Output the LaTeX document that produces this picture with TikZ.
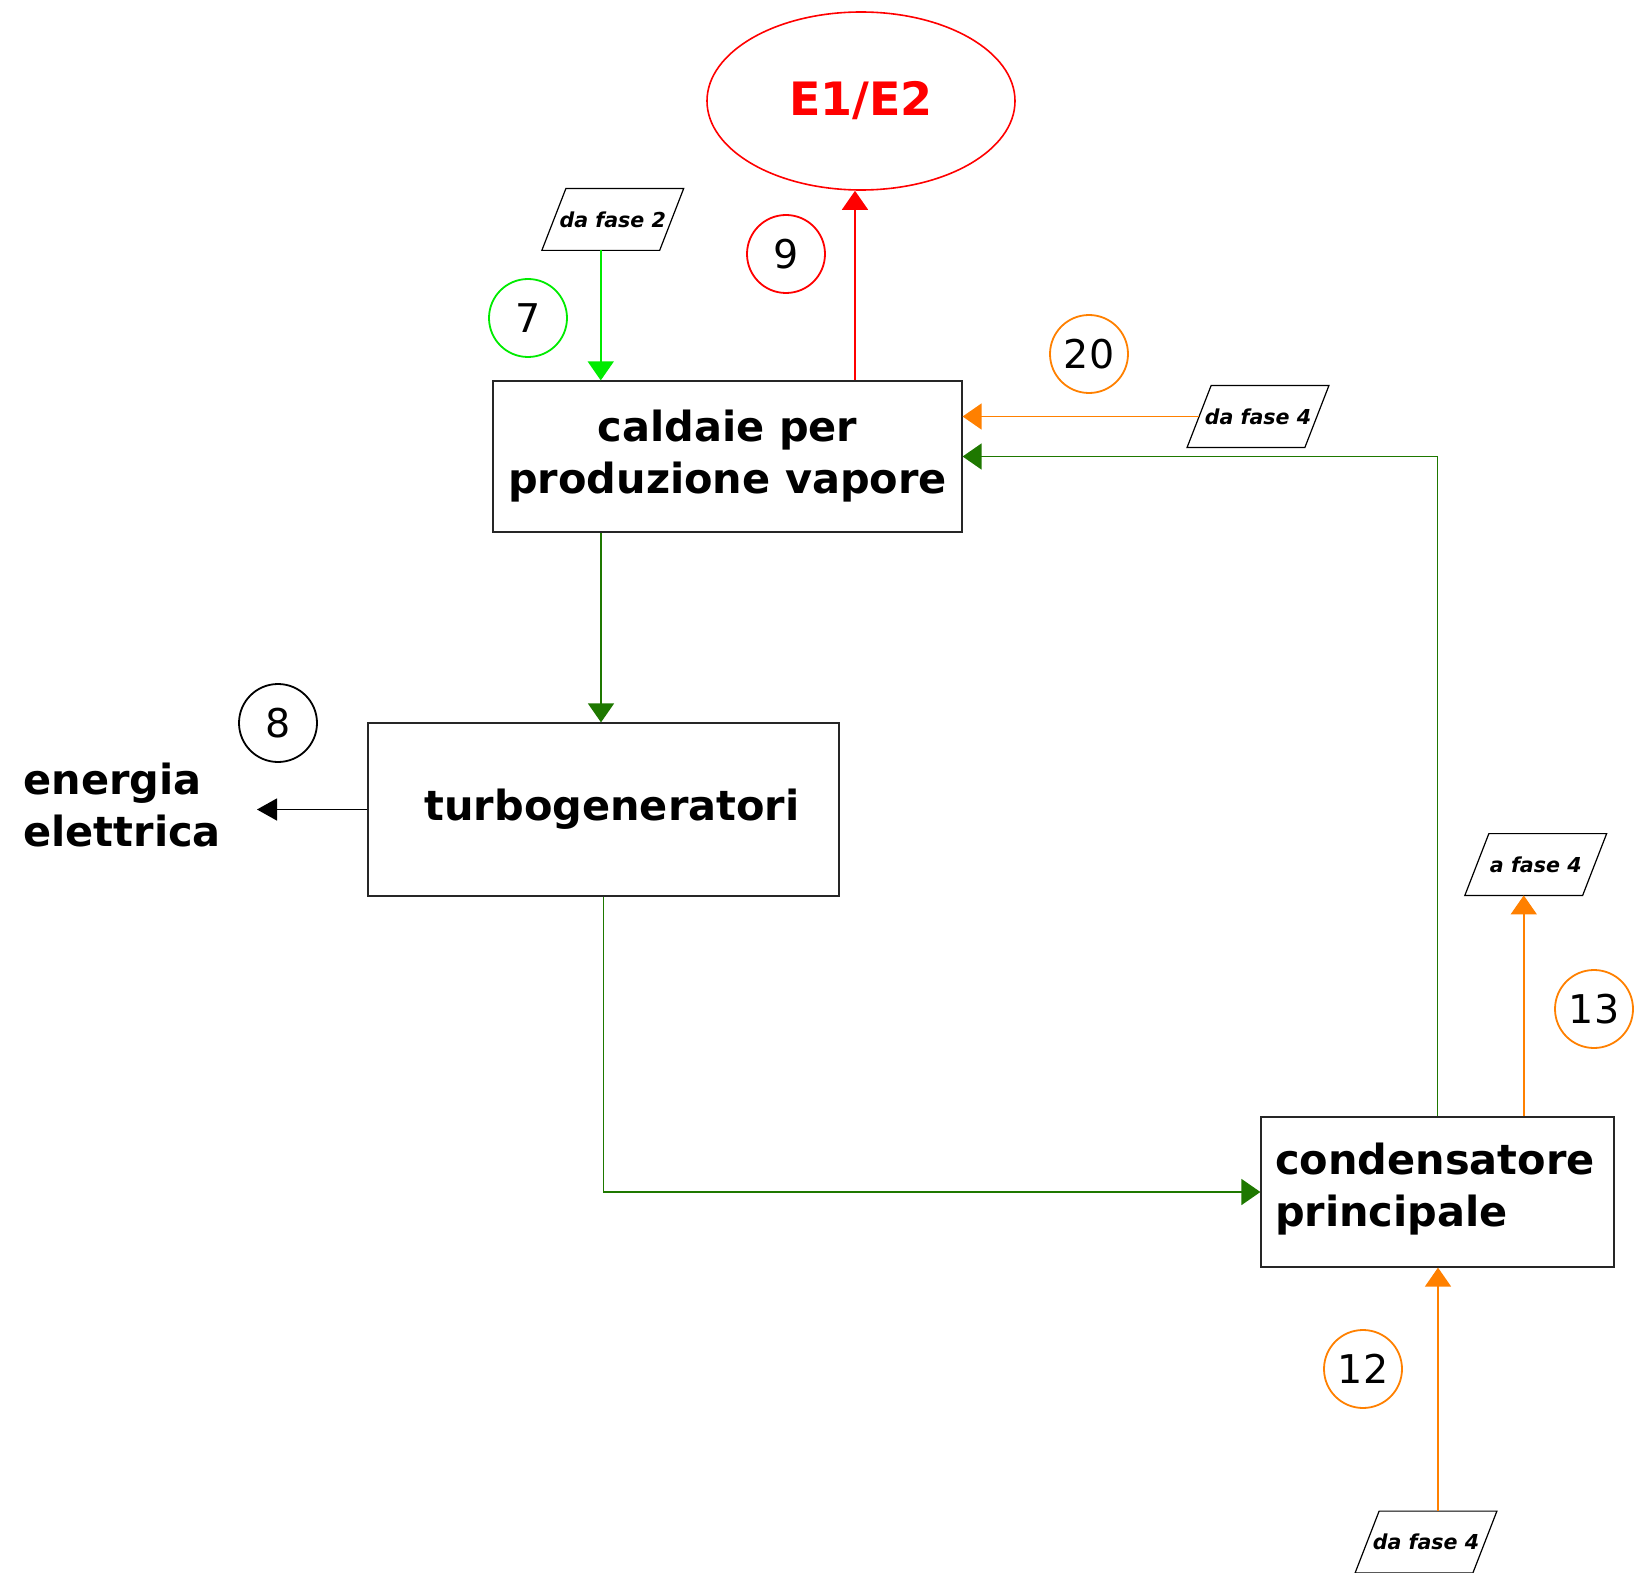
\documentclass[tikz,border=0pt]{standalone}
\usepackage{fontspec}
\setmainfont{DejaVu Sans}
\usetikzlibrary{arrows.meta,shapes.geometric,calc}
\definecolor{lgreen}{RGB}{0,235,0}
\definecolor{dgreen}{RGB}{30,120,0}
\definecolor{orng}{RGB}{255,128,0}
\begin{document}
\begin{tikzpicture}[x=0.5pt,y=-0.5pt,
 box/.style={draw=black!85, line width=0.6pt, rectangle, inner sep=0pt, font=\fontsize{20.75}{26}\selectfont\bfseries, align=center},
 num/.style={circle, draw, line width=0.9pt, minimum size=39pt, inner sep=0pt, font=\fontsize{19.8}{22}\selectfont},
 para/.style={rectangle, minimum width=58.5pt, minimum height=30.5pt, inner sep=0pt, font=\fontsize{10.3}{12}\selectfont\bfseries\itshape},
 flow/.style={line width=0.75pt, -{Triangle[length=9.5pt,width=13pt]}},
]
\useasboundingbox (0,0) rectangle (1634,1573);
% main boxes
\node[box, minimum width=234.5pt, minimum height=75.5pt] (cald) at (727.5,456.5) {caldaie per\\produzione vapore};
\node[box, minimum width=235.5pt, minimum height=86.5pt] (turbo) at (603.5,809.5) {\hspace*{8.5pt}turbogeneratori};
\node[box, minimum width=176.5pt, minimum height=75pt, text width=162.5pt, align=left] (cond) at (1437.5,1192) {condensatore\\principale\vspace*{3pt}};
\node[ellipse, draw=red, line width=0.8pt, minimum width=154pt, minimum height=89pt, inner sep=0pt, text=red, font=\fontsize{23}{26}\selectfont\bfseries] (e12) at (861,101) {E1/E2};
\node[anchor=west, align=left, inner sep=0pt, font=\fontsize{20.75}{26}\selectfont\bfseries] (en) at (23,805) {energia\\elettrica};
% parallelograms
\node[para] (p2) at (612.75,219.5) {da fase 2};
\node[para] (p4a) at (1258,416.5) {da fase 4};
\node[para] (p4b) at (1535.75,864.5) {a fase 4};
\node[para] (p4c) at (1426,1542) {da fase 4};
\foreach \p in {p2,p4a,p4b,p4c}
  \draw[line width=0.6pt] ($(\p.south west)+(-12,0)$) -- ($(\p.north west)+(12,0)$) -- ($(\p.north east)+(12,0)$) -- ($(\p.south east)+(-12,0)$) -- cycle;
% numbered circles
\node[num, draw=lgreen] (c7) at (528,318) {7};
\node[num, draw=red] (c9) at (786,254) {9};
\node[num, draw=orng] (c20) at (1089,354) {20};
\node[num, draw=black] (c8) at (278,723) {8};
\node[num, draw=orng] (c13) at (1594,1009) {13};
\node[num, draw=orng] (c12) at (1363,1369) {12};
% helper coordinates
\coordinate (xg) at (601,0);
\coordinate (xr) at (855,0);
\coordinate (ee) at (257,809.5);
\coordinate (p2b) at ($(p2.south)+(-12,0)$);
\coordinate (p4bb) at ($(p4b.south)+(-12,0)$);
\coordinate (p4ct) at ($(p4c.north)+(12,0)$);
% connectors
\draw[flow, lgreen] (p2b) -- (cald.north -| p2b);
\draw[flow, red] (cald.north -| xr) -- (e12.south -| xr);
\draw[flow, dgreen] (cald.south -| xg) -- (turbo.north -| xg);
\draw[line width=0.7pt, -{Triangle[length=10pt,width=11pt]}, black] (turbo.west) -- (ee);
\draw[flow, dgreen] (turbo.south) |- (cond.west);
\draw[flow, dgreen] (cond.north) |- (cald.east);
\draw[flow, orng] (p4a.west) -- (cald.east |- p4a.west);
\draw[flow, orng] (cond.north -| p4bb) -- (p4bb);
\draw[flow, orng] (p4ct) -- (cond.south -| p4ct);
\end{tikzpicture}
\end{document}
